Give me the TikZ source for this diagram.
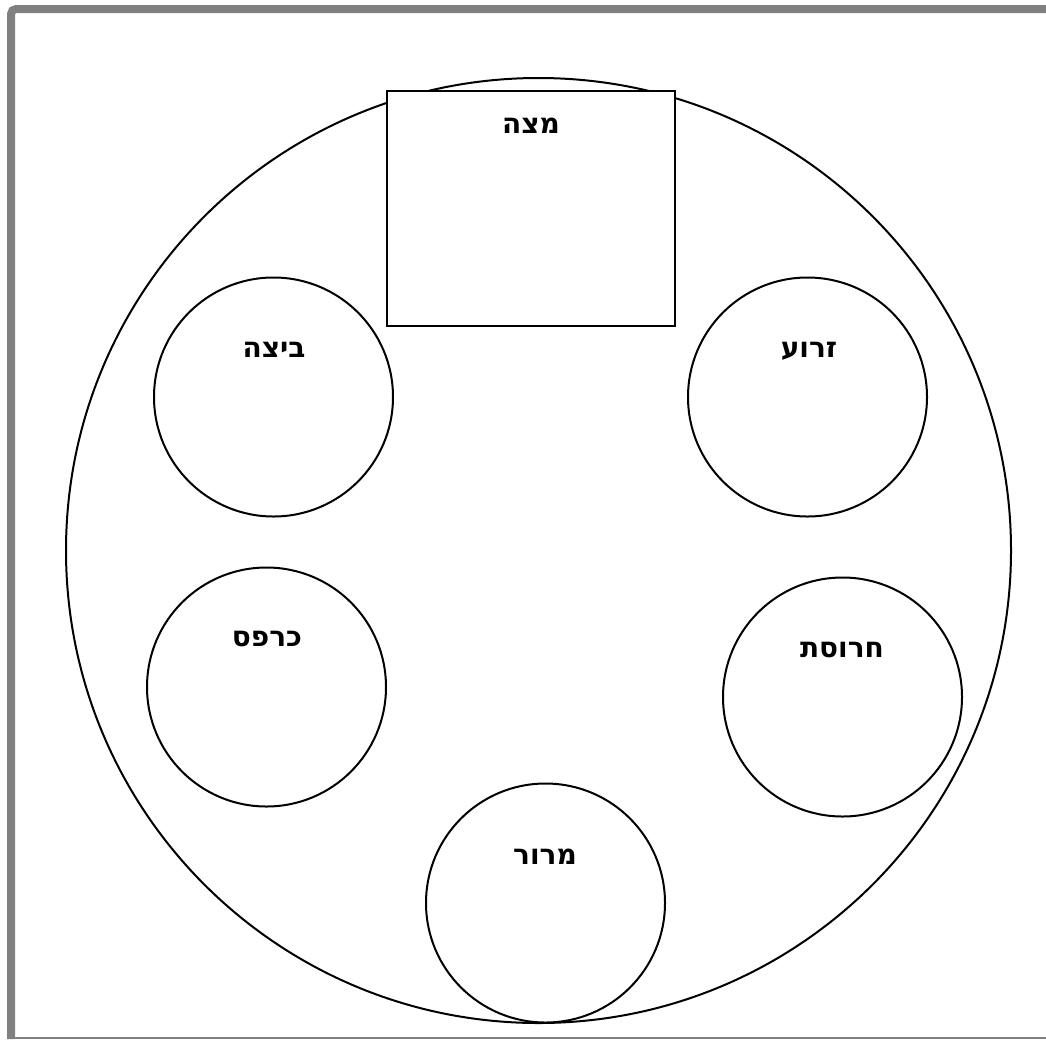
\documentclass[tikz,border=0pt]{standalone}
\usepackage{fontspec}
\TeXXeTstate=1
\newfontfamily\hebbold[Script=Hebrew]{DejaVu Sans Bold}
\definecolor{framegray}{RGB}{128,128,128}
\begin{document}
\begin{tikzpicture}[x=1pt,y=-1pt,
  dish/.style={circle,draw=black,fill=white,line width=2pt,minimum size=239pt,inner sep=0pt},
  lbl/.style={anchor=base,font=\hebbold\fontsize{28}{30}\selectfont,inner sep=0pt}]
\useasboundingbox (0,0) rectangle (1046,1039);
% frame
\draw[framegray,line width=8pt,rounded corners=5pt] (11,1039) -- (11,9) -- (1046,9);
\draw[framegray,line width=2pt] (15,1038) -- (1046,1038);
% plate
\node[circle,draw=black,line width=2pt,minimum size=945pt,inner sep=0pt] (plate) at (538.5,550.5) {};
% matza box
\node[draw=black,fill=white,line width=2pt,minimum width=288pt,minimum height=235pt,inner sep=0pt] (matzabox) at (531,208.5) {};
% dishes
\node[dish] (beitza) at (273.5,397) {};
\node[dish] (zroa) at (807.5,397) {};
\node[dish] (karpas) at (266.5,687) {};
\node[dish] (charoset) at (842.5,697) {};
\node[dish] (maror) at (545.5,903) {};
% labels
\node[lbl] (tmatza) at (531,133) {\beginR מצה\endR};
\node[lbl] (tbeitza) at (274,357) {\beginR ביצה\endR};
\node[lbl] (tzroa) at (809,357) {\beginR זרוע\endR};
\node[lbl] (tkarpas) at (267,646) {\beginR כרפס\endR};
\node[lbl] (tcharoset) at (842,657) {\beginR חרוסת\endR};
\node[lbl] (tmaror) at (545,864) {\beginR מרור\endR};
\end{tikzpicture}
\end{document}
